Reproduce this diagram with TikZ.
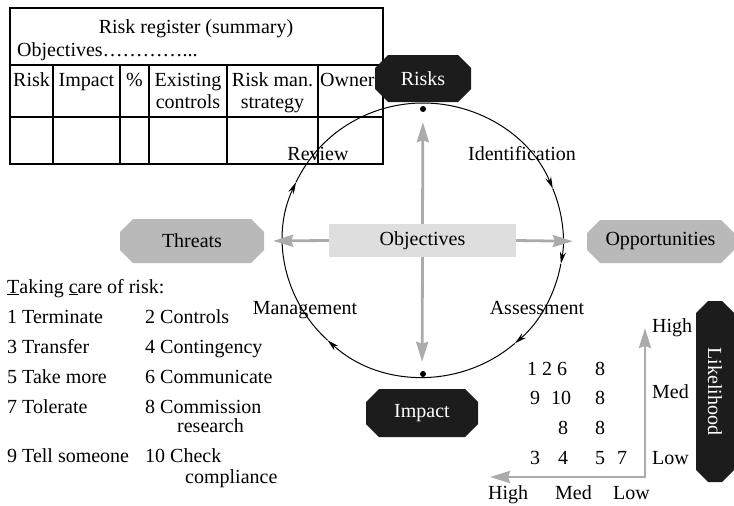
\documentclass[tikz,border=0pt]{standalone}
\usepackage{fontspec}
\setmainfont{Liberation Serif}
\usetikzlibrary{arrows.meta,calc}
\definecolor{shapegray}{HTML}{B9B9B9}
\definecolor{boxgray}{HTML}{DEDEDE}
\definecolor{arrowgray}{HTML}{ABABAB}
\definecolor{darkfill}{HTML}{1C1C1C}
\begin{document}
\begin{tikzpicture}[x=1pt,y=-1pt,font=\fontsize{20}{24}\selectfont,
  chamfer/.style 2 args={inner sep=0pt,
    path picture={\fill[#1]
      ([xshift=#2]path picture bounding box.north west) --
      ([xshift=-#2]path picture bounding box.north east) --
      ([yshift=-#2]path picture bounding box.north east) --
      ([yshift=#2]path picture bounding box.south east) --
      ([xshift=-#2]path picture bounding box.south east) --
      ([xshift=#2]path picture bounding box.south west) --
      ([yshift=#2]path picture bounding box.south west) --
      ([yshift=-#2]path picture bounding box.north west) -- cycle;}},
  graytip/.tip={Stealth[length=20pt,width=12pt,inset=2pt]},
  grayarrow/.style={draw=arrowgray,line width=2.8pt,-graytip},
  looparrow/.style={line width=1pt,-{Stealth[length=12pt,width=6pt]}},
  txt/.style={anchor=base,inner sep=0pt},
  txtl/.style={anchor=base west,inner sep=0pt},
  dot/.style={circle,fill=black,inner sep=0pt,minimum size=6pt}]
\useasboundingbox (0,0) rectangle (734,506);

% risk register table
\draw[line width=1.1pt] (10,8) rectangle (383,164);
\draw[line width=1.1pt] (10,65) -- (383,65) (10,117) -- (383,117);
\foreach \cx in {53,120,149,227,318}
  \draw[line width=1.1pt] (\cx,65) -- (\cx,164);
\node[txt] (title) at (196,33) {Risk register (summary)};
\node[txtl] (objline) at (17,56) {Objectives…………...};
\node[txt] (hrisk) at (31.5,86) {Risk};
\node[txt] (himpact) at (86.5,86) {Impact};
\node[txt] (hpct) at (134.5,86) {\%};
\node[txt] (hexist) at (188,86) {Existing};
\node[txt] (hexist2) at (188,108) {controls};
\node[txt] (hman) at (272.5,86) {Risk man.};
\node[txt] (hman2) at (272.5,108) {strategy};
\node[txtl] (howner) at (320,86) {Owner};

% the risk management cycle
\coordinate (c) at (423,240);
\draw[looparrow] ($(c)+(-90:140 and 137)$) arc[start angle=-90,end angle=-22,x radius=140,y radius=137];
\draw[looparrow] ($(c)+(-22:140 and 137)$) arc[start angle=-22,end angle=10,x radius=140,y radius=137];
\draw[looparrow] ($(c)+(10:140 and 137)$) arc[start angle=10,end angle=49,x radius=140,y radius=137];
\draw[looparrow] ($(c)+(49:140 and 137)$) arc[start angle=49,end angle=133,x radius=140,y radius=137];
\draw[looparrow] ($(c)+(133:140 and 137)$) arc[start angle=133,end angle=205,x radius=140,y radius=137];
\draw[line width=1pt] ($(c)+(205:140 and 137)$) arc[start angle=205,end angle=270,x radius=140,y radius=137];

\node[dot] (topdot) at (423,109) {};
\node[dot] (botdot) at (423,374) {};

\node[txt] (review) at (318,160) {Review};
\node[txt] (ident) at (522,160) {Identification};
\node[txt] (manage) at (305,314) {Management};
\node[txt] (assess) at (537,314) {Assessment};

% central box and the four outcomes
\node[fill=boxgray,minimum width=187pt,minimum height=33pt,inner sep=0pt] (obj) at (422.5,240.5) {Objectives};
\node[chamfer={darkfill}{13pt},minimum width=96pt,minimum height=47pt,text=white] (risks) at (423,78.5) {Risks};
\node[chamfer={darkfill}{13pt},minimum width=112pt,minimum height=48pt,text=white] (impact) at (422,413) {Impact};
\node[chamfer={shapegray}{13pt},minimum width=144pt,minimum height=44pt] (threats) at (192,241) {Threats};
\node[chamfer={shapegray}{13pt},minimum width=147pt,minimum height=43pt] (opps) at (660.5,241.5) {Opportunities};

\draw[grayarrow,shorten >=9pt] (obj.west) -- (threats.east);
\draw[grayarrow,shorten >=14pt] (obj.east) -- (opps.west);
\draw[grayarrow,shorten >=20pt] (obj.north) -- (risks.south);
\draw[grayarrow,shorten >=27pt] (obj.south) -- (impact.north);

% ways of taking care of risk
\node[txtl] (care) at (7,293) {\underline{T}aking \underline{c}are of risk:};
\node[txtl] (t1) at (7,323) {1 Terminate};
\node[txtl] (t2) at (145,323) {2 Controls};
\node[txtl] (t3) at (7,353) {3 Transfer};
\node[txtl] (t4) at (145,353) {4 Contingency};
\node[txtl] (t5) at (7,383) {5 Take more};
\node[txtl] (t6) at (145,383) {6 Communicate};
\node[txtl] (t7) at (7,413) {7 Tolerate};
\node[txtl] (t8) at (145,413) {8 Commission};
\node[txtl] (t8b) at (177,432) {research};
\node[txtl] (t9) at (7,462) {9 Tell someone};
\node[txtl] (t10) at (145,462) {10 Check};
\node[txtl] (t10b) at (185,483) {compliance};

% impact / likelihood matrix
\coordinate (corner) at (645,477);
\coordinate (htip) at (490,477);
\coordinate (vtip) at (645,328);
\draw[draw=arrowgray,line width=2.8pt,graytip-graytip] (htip) -- (corner) -- (vtip);

\node[txt] (m126) at (547,375) {1 2 6};
\node[txt] (m8a) at (600,375) {8};
\node[txt] (m9) at (535,404.5) {9};
\node[txt] (m10) at (561,404.5) {10};
\node[txt] (m8b) at (600,404.5) {8};
\node[txt] (m8c) at (563,434) {8};
\node[txt] (m8d) at (600,434) {8};
\node[txt] (m3) at (535,464) {3};
\node[txt] (m4) at (563,464) {4};
\node[txt] (m5) at (600,464) {5};
\node[txt] (m7) at (622,464) {7};

\node[txtl] (vhigh) at (652,332) {High};
\node[txtl] (vmed) at (652,398) {Med};
\node[txtl] (vlow) at (652,464) {Low};
\node[txtl] (hhigh) at (488,499) {High};
\node[txtl] (hmed) at (555,499) {Med};
\node[txtl] (hlow) at (613,499) {Low};

\node[chamfer={darkfill}{12pt},minimum width=38pt,minimum height=181pt,text=white] (lik) at (715,391.5) {\rotatebox{-90}{Likelihood}};
\end{tikzpicture}
\end{document}
